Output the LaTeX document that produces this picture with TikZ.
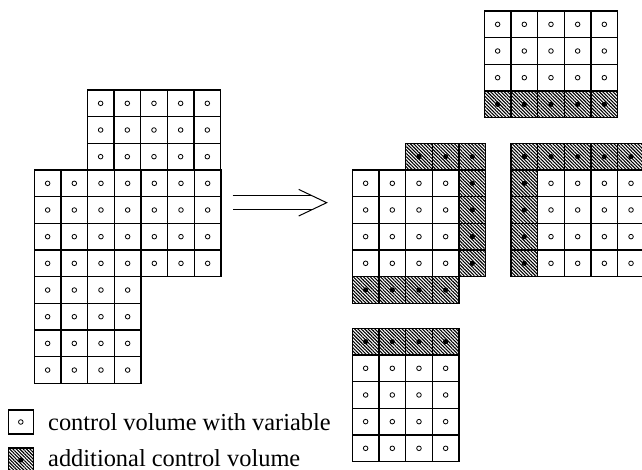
\documentclass[tikz,border=0pt]{standalone}
\usepackage{fontspec}
\setmainfont{Liberation Serif}
\usetikzlibrary{patterns.meta,calc}
\begin{document}
\begin{tikzpicture}[x=1pt,y=-1pt,
  cellline/.style={line width=1.1pt},
  ghostfill/.style={pattern={Lines[angle=-45,distance=2.4pt,line width=1.1pt]}},
  varmark/.style={line width=0.8pt},
  legendtext/.style={anchor=base west,inner sep=0pt,font=\fontsize{24.4}{29}\selectfont}]
\def\s{26.67}
\tikzset{
  cv/.pic={\draw[cellline] (0,0) rectangle (\s,\s);
           \draw[varmark] (\s/2,\s/2) circle[radius=2.3];},
  cg/.pic={\filldraw[cellline,ghostfill] (0,0) rectangle (\s,\s);
           \fill (\s/2,\s/2) circle[radius=2.6];}
}
\clip (0,0) rectangle (642,470);
\fill[white] (0,0) rectangle (642,470);

% global grid
\foreach \c in {0,...,4} \foreach \r in {0,1,2}
  \pic at ({87.3+\c*\s},{90+\r*\s}) {cv};
\foreach \c in {0,...,6} \foreach \r in {0,...,3}
  \pic at ({34.3+\c*\s},{170+\r*\s}) {cv};
\foreach \c in {0,...,3} \foreach \r in {0,...,3}
  \pic at ({34.3+\c*\s},{276.7+\r*\s}) {cv};

% upper part with one overlap row
\foreach \c in {0,...,4} {
  \foreach \r in {0,1,2} \pic at ({484.3+\c*\s},{11+\r*\s}) {cv};
  \pic at ({484.3+\c*\s},{11+3*\s}) {cg};
}

% middle-left part
\foreach \c in {0,...,3} \foreach \r in {1,...,4}
  \pic at ({352.3+\c*\s},{143.3+\r*\s}) {cv};
\foreach \c in {2,3,4} \pic at ({352.3+\c*\s},143.3) {cg};
\foreach \r in {1,...,4} \pic at ({352.3+4*\s},{143.3+\r*\s}) {cg};
\foreach \c in {0,...,3} \pic at ({352.3+\c*\s},{143.3+5*\s}) {cg};

% middle-right part
\foreach \c in {0,...,4} \pic at ({511+\c*\s},143.3) {cg};
\foreach \r in {1,...,4} \pic at (511,{143.3+\r*\s}) {cg};
\foreach \c in {1,...,4} \foreach \r in {1,...,4}
  \pic at ({511+\c*\s},{143.3+\r*\s}) {cv};

% lower part
\foreach \c in {0,...,3} {
  \pic at ({352.3+\c*\s},328.3) {cg};
  \foreach \r in {1,...,4} \pic at ({352.3+\c*\s},{328.3+\r*\s}) {cv};
}

% decomposition arrow
\coordinate (gridE) at (232.7,202.7);
\coordinate (partsW) at (326.7,202.7);
\draw[double distance=13pt,line width=1pt] (gridE) -- ($(partsW)+(-14.5,0)$);
\draw[line width=1pt] ($(partsW)+(-28,-13.3)$) -- (partsW) -- ($(partsW)+(-28,13.3)$);

% legend
\draw[cellline] (8.3,410) rectangle (33.3,434);
\draw[varmark] (20.8,422) circle[radius=2.3];
\filldraw[cellline,ghostfill] (8.3,448) rectangle (33.3,472);
\fill (20.8,460) circle[radius=2.6];
\node[legendtext] (legvar) at (48,430) {control volume with variable};
\node[legendtext] (legghost) at (48,466.3) {additional control volume};
\end{tikzpicture}
\end{document}
